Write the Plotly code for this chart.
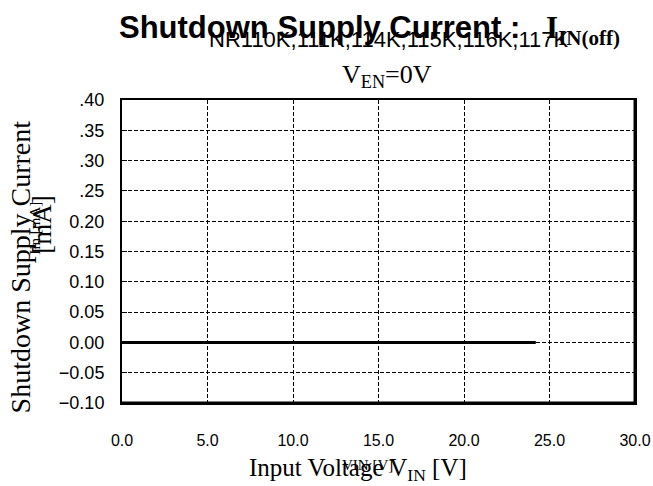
import plotly.graph_objects as go

# data
vin = [0.0, 2.0, 4.0, 6.0, 8.0, 10.0, 12.0, 14.0, 16.0, 18.0, 20.0, 22.0, 24.2]
iin = [0.0, 0.0, 0.0, 0.0, 0.0, 0.0, 0.0, 0.0, 0.0, 0.0, 0.0, 0.0, 0.0]

x_ticks = [0, 5, 10, 15, 20, 25, 30]
x_ticktext = ["0.0", "5.0", "10.0", "15.0", "20.0", "25.0", "30.0"]
y_ticks = [0.40, 0.35, 0.30, 0.25, 0.20, 0.15, 0.10, 0.05, 0.00, -0.05, -0.10]
y_ticktext = [".40", ".35", ".30", ".25", "0.20", "0.15", "0.10", "0.05", "0.00", "\u22120.05", "\u22120.10"]

SANS = "Liberation Sans, Arial, sans-serif"
SERIF = "Liberation Serif, Times New Roman, serif"

fig = go.Figure()
fig.add_trace(go.Scatter(x=vin, y=iin, mode="lines",
                         line=dict(color="black", width=3), showlegend=False))

fig.update_layout(
    width=653, height=486,
    margin=dict(l=122, r=18, t=100, b=83, autoexpand=False),
    paper_bgcolor="white", plot_bgcolor="white",
    font=dict(family=SANS, color="black", size=16),
)
fig.update_xaxes(range=[0, 30], tickvals=x_ticks, ticktext=x_ticktext, automargin=False,
                 showgrid=True, gridcolor="black", griddash="4px,2px", gridwidth=1,
                 showline=True, linecolor="black", linewidth=2, mirror=True,
                 ticks="", ticklabelstandoff=22, zeroline=False,
                 tickfont=dict(family=SANS, size=16, color="black"))
fig.update_yaxes(range=[-0.1, 0.4], tickvals=y_ticks, ticktext=y_ticktext, automargin=False,
                 showgrid=True, gridcolor="black", griddash="4px,2px", gridwidth=1,
                 showline=True, linecolor="black", linewidth=2, mirror=True,
                 ticks="inside", ticklen=5, tickcolor="black", tickwidth=1,
                 ticklabelstandoff=12, zeroline=False,
                 tickfont=dict(family=SANS, size=18, color="black"))

# heavier bottom / right frame edge (shadow look)
fig.add_shape(type="line", xref="paper", yref="paper", x0=0, x1=1, y0=0, y1=0,
              line=dict(color="black", width=3))
fig.add_shape(type="line", xref="paper", yref="paper", x0=1, x1=1, y0=0, y1=1,
              line=dict(color="black", width=3))

ann = []
ann.append(dict(text="<b>Shutdown Supply Current :&nbsp;&nbsp;&nbsp;<span style='font-family:Liberation Serif'>I<sub><span style='font-size:21px'>IN(off)</span></sub></span></b>",
                x=0.483, y=1.232, xref="paper", yref="paper", showarrow=False,
                xanchor="center", yanchor="middle", font=dict(family=SANS, size=31, color="black")))
ann.append(dict(text="NR110K,111K,114K,115K,116K,117K",
                x=0.520, y=1.201, xref="paper", yref="paper", showarrow=False,
                xanchor="center", yanchor="middle", font=dict(family=SANS, size=22, color="black")))
ann.append(dict(text="V<sub>EN</sub>=0V",
                x=0.517, y=1.079, xref="paper", yref="paper", showarrow=False,
                xanchor="center", yanchor="middle", font=dict(family=SERIF, size=26, color="black")))
ann.append(dict(text="Shutdown Supply Current", textangle=-90,
                x=-0.196, y=0.449, xref="paper", yref="paper", showarrow=False,
                xanchor="center", yanchor="middle", font=dict(family=SERIF, size=28, color="black")))
ann.append(dict(text="[mA]", textangle=-90,
                x=-0.155, y=0.590, xref="paper", yref="paper", showarrow=False,
                xanchor="center", yanchor="middle", font=dict(family=SERIF, size=27, color="black")))
ann.append(dict(text="Iin [mA]", textangle=-90,
                x=-0.170, y=0.578, xref="paper", yref="paper", showarrow=False,
                xanchor="center", yanchor="middle", font=dict(family=SERIF, size=15, color="black")))
ann.append(dict(text="Input Voltage V<sub>IN</sub> [V]",
                x=0.460, y=-0.221, xref="paper", yref="paper", showarrow=False,
                xanchor="center", yanchor="middle", font=dict(family=SERIF, size=25, color="black")))
ann.append(dict(text="VIN [V]",
                x=0.478, y=-0.205, xref="paper", yref="paper", showarrow=False,
                xanchor="center", yanchor="middle", font=dict(family=SERIF, size=15, color="black")))
fig.update_layout(annotations=ann)

fig.write_html("out.html", config={"displayModeBar": False},
               post_script="document.body.style.margin='0';")
